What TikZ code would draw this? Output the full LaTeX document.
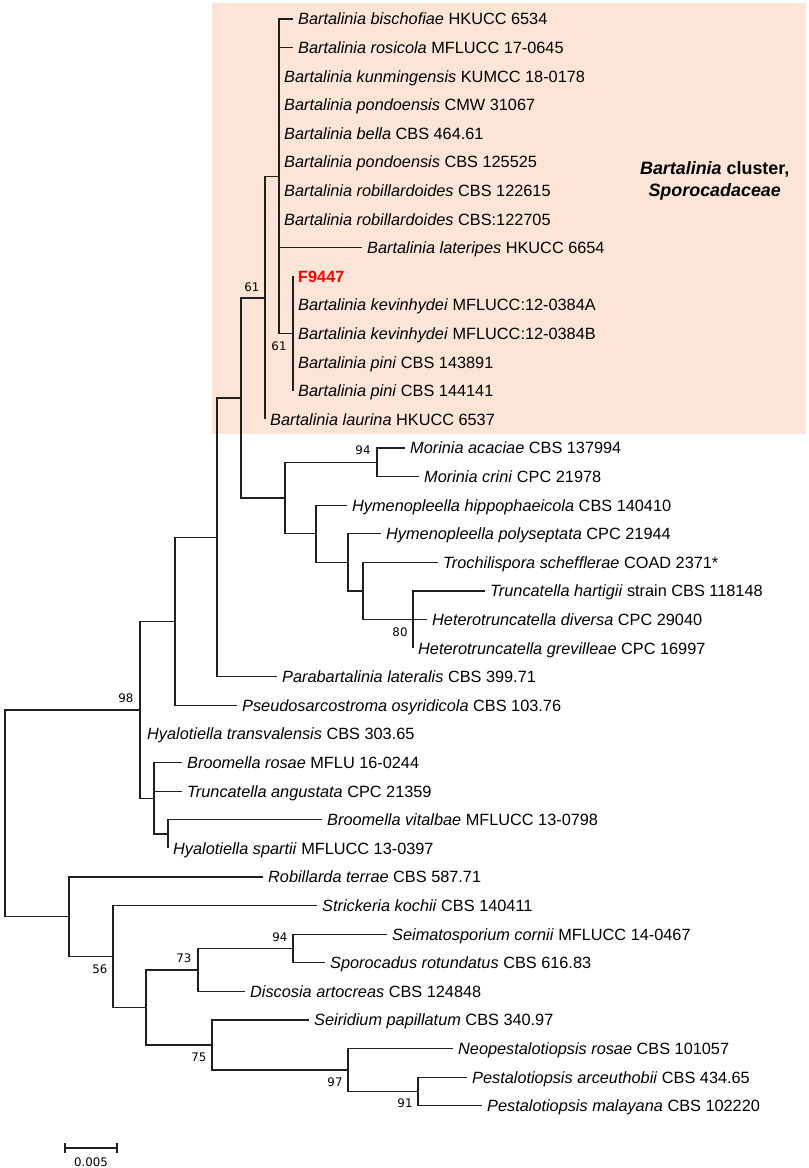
\documentclass[tikz,border=0pt]{standalone}
\usepackage{fontspec}
\setmainfont{Liberation Sans}
\newfontfamily\bsfam{DejaVu Sans}
\definecolor{peach}{HTML}{FCE4D6}
\definecolor{fred}{HTML}{FF0000}
\newcommand\labfont{\fontsize{16.3}{18}\selectfont}
\newcommand\bsfont{\bsfam\fontsize{11.8}{13}\selectfont}
\newcommand\leaf[5]{\coordinate (#1) at (#2,#3);
  \node[lab] (#1t) at ([xshift=5pt]#1) {\textit{#4} #5};}
\tikzset{
  br/.style={line width=1.35pt, draw=black!88},
  lab/.style={anchor=west, inner sep=0pt, text height=11.7pt, text depth=0pt, font=\labfont},
  bs/.style={inner sep=0pt, font=\bsfont},
}
\begin{document}
\begin{tikzpicture}[x=1pt,y=-1pt]
\useasboundingbox (0,0) rectangle (809,1168);
\fill[peach] (212,3) rectangle (806,434);
\node[align=center, inner sep=0pt, font=\fontsize{17.9}{22}\selectfont\bfseries] (clu) at (714.7,181)
  {\textit{Bartalinia} cluster,\\ \textit{Sporocadaceae}};
% leaves
\leaf{L0}{293}{19.0}{Bartalinia bischofiae}{HKUCC 6534}
\leaf{L1}{293}{47.6}{Bartalinia rosicola}{MFLUCC 17-0645}
\leaf{L2}{279}{76.2}{Bartalinia kunmingensis}{KUMCC 18-0178}
\leaf{L3}{279}{104.8}{Bartalinia pondoensis}{CMW 31067}
\leaf{L4}{279}{133.4}{Bartalinia bella}{CBS 464.61}
\leaf{L5}{279}{162.0}{Bartalinia pondoensis}{CBS 125525}
\leaf{L6}{279}{190.6}{Bartalinia robillardoides}{CBS 122615}
\leaf{L7}{279}{219.2}{Bartalinia robillardoides}{CBS:122705}
\leaf{L8}{362}{247.8}{Bartalinia lateripes}{HKUCC 6654}
\coordinate (L9) at (293,276.4);
\node[lab, text=fred, font=\labfont\bfseries] (L9t) at ([xshift=5pt]L9) {F9447};
\leaf{L10}{293}{305.0}{Bartalinia kevinhydei}{MFLUCC:12-0384A}
\leaf{L11}{293}{333.6}{Bartalinia kevinhydei}{MFLUCC:12-0384B}
\leaf{L12}{293}{362.2}{Bartalinia pini}{CBS 143891}
\leaf{L13}{293}{390.8}{Bartalinia pini}{CBS 144141}
\leaf{L14}{265}{419.4}{Bartalinia laurina}{HKUCC 6537}
\leaf{L15}{405}{448.0}{Morinia acaciae}{CBS 137994}
\leaf{L16}{419}{476.6}{Morinia crini}{CPC 21978}
\leaf{L17}{347}{505.2}{Hymenopleella hippophaeicola}{CBS 140410}
\leaf{L18}{381}{533.8}{Hymenopleella polyseptata}{CPC 21944}
\leaf{L19}{438}{562.4}{Trochilispora schefflerae}{COAD 2371*}
\leaf{L20}{485}{591.0}{Truncatella hartigii}{strain CBS 118148}
\leaf{L21}{427}{619.6}{Heterotruncatella diversa}{CPC 29040}
\leaf{L22}{413}{648.2}{Heterotruncatella grevilleae}{CPC 16997}
\leaf{L23}{277}{676.8}{Parabartalinia lateralis}{CBS 399.71}
\leaf{L24}{237}{705.4}{Pseudosarcostroma osyridicola}{CBS 103.76}
\coordinate (L25) at (140,734.0);
\node[lab] (L25t) at ([xshift=7pt]L25) {\textit{Hyalotiella transvalensis} CBS 303.65};
\leaf{L26}{182}{762.6}{Broomella rosae}{MFLU 16-0244}
\leaf{L27}{182}{791.2}{Truncatella angustata}{CPC 21359}
\leaf{L28}{322}{819.8}{Broomella vitalbae}{MFLUCC 13-0798}
\leaf{L29}{168}{848.4}{Hyalotiella spartii}{MFLUCC 13-0397}
\leaf{L30}{263}{877.0}{Robillarda terrae}{CBS 587.71}
\leaf{L31}{317}{905.6}{Strickeria kochii}{CBS 140411}
\leaf{L32}{387}{934.2}{Seimatosporium cornii}{MFLUCC 14-0467}
\leaf{L33}{325}{962.8}{Sporocadus rotundatus}{CBS 616.83}
\leaf{L34}{245}{991.4}{Discosia artocreas}{CBS 124848}
\leaf{L35}{309}{1020.0}{Seiridium papillatum}{CBS 340.97}
\leaf{L36}{453}{1048.6}{Neopestalotiopsis rosae}{CBS 101057}
\leaf{L37}{467}{1077.2}{Pestalotiopsis arceuthobii}{CBS 434.65}
\leaf{L38}{482}{1105.8}{Pestalotiopsis malayana}{CBS 102220}
% internal nodes
\coordinate (nF) at (293,333.6);
\coordinate (nB1) at (279,176.3);
\coordinate (nB) at (265,297.85);
\coordinate (nMor) at (377,462.3);
\coordinate (nT) at (413,619.6);
\coordinate (nTr) at (363,591.0);
\coordinate (nPo) at (348,562.4);
\coordinate (nHy) at (316,533.8);
\coordinate (nMH) at (285,498.05);
\coordinate (nA4) at (241,397.95);
\coordinate (nA3) at (217,537.4);
\coordinate (nA2) at (175,621.4);
\coordinate (nBr2) at (168,834.1);
\coordinate (nBr) at (154,798.35);
\coordinate (nA1) at (140,709.9);
\coordinate (nP2) at (418,1091.5);
\coordinate (nP1) at (348,1070.05);
\coordinate (nS2) at (212,1045.0);
\coordinate (nSe) at (293,948.5);
\coordinate (nD) at (198,969.95);
\coordinate (nL3) at (146,1007.5);
\coordinate (nL2) at (113,956.55);
\coordinate (nL1) at (69,916.8);
\coordinate (root) at (5,813.35);
% branches
\foreach \p/\c in {nB1/L0,nB1/L1,nB1/L2,nB1/L3,nB1/L4,nB1/L5,nB1/L6,nB1/L7,nB1/L8,nB1/nF,
  nF/L9,nF/L10,nF/L11,nF/L12,nF/L13,nB/nB1,nB/L14,nA4/nB,nA4/nMH,nMH/nMor,nMH/nHy,
  nMor/L15,nMor/L16,nHy/L17,nHy/nPo,nPo/L18,nPo/nTr,nTr/L19,nTr/nT,nT/L20,nT/L21,nT/L22,
  nA3/nA4,nA3/L23,nA2/nA3,nA2/L24,nA1/nA2,nA1/L25,nA1/nBr,nBr/L26,nBr/L27,nBr/nBr2,
  nBr2/L28,nBr2/L29,root/nA1,root/nL1,nL1/L30,nL1/nL2,nL2/L31,nL2/nL3,nL3/nD,nL3/nS2,
  nD/nSe,nD/L34,nSe/L32,nSe/L33,nS2/L35,nS2/nP1,nP1/L36,nP1/nP2,nP2/L37,nP2/L38}
  {\draw[br] (\p) |- (\c);}
% bootstrap values
\node[bs] (b1) at (252,287) {61};
\node[bs] (b2) at (279,346) {61};
\node[bs] (b3) at (363,450) {94};
\node[bs] (b4) at (400,632) {80};
\node[bs] (b5) at (126,698) {98};
\node[bs] (b6) at (100,969) {56};
\node[bs] (b7) at (184,958) {73};
\node[bs] (b8) at (280,937) {94};
\node[bs] (b9) at (199,1057) {75};
\node[bs] (b10) at (335,1082) {97};
\node[bs] (b11) at (405,1103) {91};
% scale bar
\coordinate (s1) at (65,1148);
\coordinate (s2) at (117,1148);
\draw[br, line width=1.1pt] (s1) -- (s2);
\draw[br, line width=1.1pt] ([yshift=5pt]s1) -- ([yshift=-5pt]s1);
\draw[br, line width=1.1pt] ([yshift=5pt]s2) -- ([yshift=-5pt]s2);
\node[bs] (sl) at (91,1162) {0.005};
\end{tikzpicture}
\end{document}
